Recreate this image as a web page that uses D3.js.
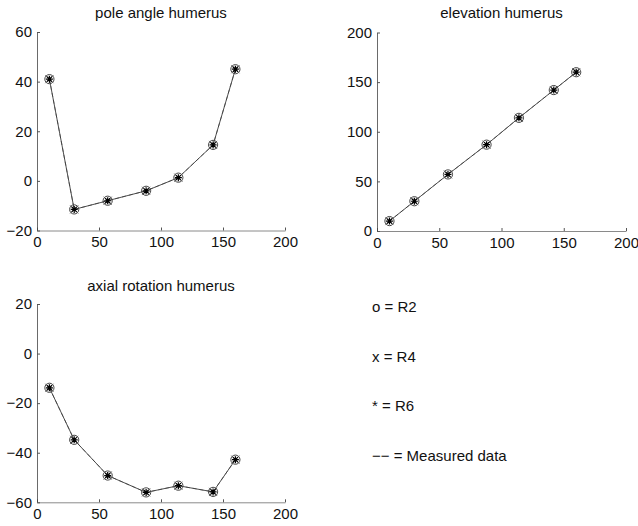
<!DOCTYPE html>
<html>
<head>
<meta charset="utf-8">
<script src="https://cdn.jsdelivr.net/npm/d3@7"></script>
<style>
  body { margin: 0; background: #fff; }
  svg text { font-family: "Liberation Sans", Arial, sans-serif; fill: #111; }
</style>
</head>
<body>
<div id="graph"></div>
<script>
// arm elevation angle (x) for every measured position
var angles = [10, 30, 57, 88, 114, 142, 160]

// measured / model values for each panel
var poleAngle = [41, -11.5, -8, -4, 1.3, 14.5, 45]
var elevation = [10, 30, 57, 87, 114, 142, 160]
var axialRotation = [-13.8, -34.8, -49.2, -56, -53.3, -55.8, -42.8]

var xTicks = [0, 50, 100, 150, 200]
var legendLabels = ["o = R2", "x = R4", "* = R6", "\u2212\u2212 = Measured data"]

var svg = d3.select("#graph").append("svg")
    .attr("width", 638)
    .attr("height", 526)

// one panel per angle
var panels = [
    { title: "pole angle humerus", values: poleAngle, yDomain: [-20, 60], yTicks: [-20, 0, 20, 40, 60],
      left: 37, right: 285, top: 32, bottom: 230.5, titleY: 18 },
    { title: "elevation humerus", values: elevation, yDomain: [0, 200], yTicks: [0, 50, 100, 150, 200],
      left: 377, right: 626, top: 32.5, bottom: 231, titleY: 18 },
    { title: "axial rotation humerus", values: axialRotation, yDomain: [-60, 20], yTicks: [-60, -40, -20, 0, 20],
      left: 37, right: 285, top: 304, bottom: 502.3, titleY: 291 }
]

panels.forEach(function (p) {
    var x = d3.scaleLinear().domain([0, 200]).range([p.left, p.right])
    var y = d3.scaleLinear().domain(p.yDomain).range([p.bottom, p.top])

    var g = svg.append("g")

    // x axis (faint, like the scan)
    var xAxis = g.append("g")
        .attr("transform", "translate(0," + p.bottom + ")")
        .call(d3.axisBottom(x).tickValues(xTicks).tickSizeInner(-3).tickSizeOuter(0).tickPadding(6))
    xAxis.select(".domain").attr("stroke", "#8a8a8a").attr("stroke-width", 1)
    xAxis.selectAll(".tick line").attr("stroke", "#555")
    xAxis.selectAll("text").attr("font-size", 15).style("fill", "#111")

    var yAxis = g.append("g")
        .attr("transform", "translate(" + p.left + ",0)")
        .call(d3.axisLeft(y).tickValues(p.yTicks).tickSizeInner(-3).tickSizeOuter(0).tickPadding(5)
            .tickFormat(function (d) { return d < 0 ? "\u2212" + Math.abs(d) : d }))
    yAxis.select(".domain").attr("stroke", "#444").attr("stroke-width", 0.8)
    yAxis.selectAll(".tick line").attr("stroke", "#555")
    yAxis.selectAll("text").attr("font-size", 15).style("fill", "#111")

    g.append("text")
        .attr("x", (p.left + p.right) / 2)
        .attr("y", p.titleY)
        .attr("text-anchor", "middle")
        .attr("font-size", 15)
        .text(p.title)

    var pts = angles.map(function (a, i) { return [x(a), y(p.values[i])] })

    // model curve
    g.append("path")
        .attr("d", d3.line()(pts))
        .attr("fill", "none")
        .attr("stroke", "#222")
        .attr("stroke-width", 0.8)
    // measured data (dashed) on top
    g.append("path")
        .attr("d", d3.line()(pts))
        .attr("fill", "none")
        .attr("stroke", "#333")
        .attr("stroke-width", 0.6)
        .attr("stroke-dasharray", "4,3")

    var m = g.selectAll(".mark").data(pts).enter().append("g")
        .attr("transform", function (d) { return "translate(" + d[0] + "," + d[1] + ")" })
    // o = R2
    m.append("circle").attr("r", 4.6).attr("fill", "none").attr("stroke", "#444").attr("stroke-width", 1)
    // x = R4
    m.append("path").attr("d", "M-4,-4L4,4M-4,4L4,-4")
        .attr("stroke", "#555").attr("stroke-width", 1)
    // * = R6
    m.append("path").attr("d", "M0,-3.5L0,3.5M-3.5,0L3.5,0M-2.5,-2.5L2.5,2.5M-2.5,2.5L2.5,-2.5")
        .attr("stroke", "#000").attr("stroke-width", 1.2)
})

// legend in the empty fourth slot
svg.selectAll(".legend").data(legendLabels).enter().append("text")
    .attr("x", 372)
    .attr("y", function (d, i) { return 312 + i * 49.5 })
    .attr("font-size", 15)
    .text(function (d) { return d })
</script>
</body>
</html>
